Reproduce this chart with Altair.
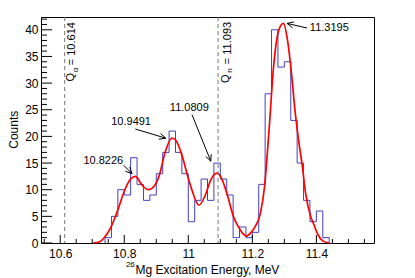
import math
import altair as alt
import pandas as pd

# ---------------- data ----------------
bin_lo = [10.74, 10.76, 10.78, 10.80, 10.82, 10.84, 10.86, 10.88, 10.90, 10.92,
          10.94, 10.96, 10.98, 11.00, 11.02, 11.04, 11.06, 11.08, 11.10, 11.12,
          11.14, 11.16, 11.18, 11.20, 11.22, 11.24, 11.26, 11.28, 11.30, 11.32,
          11.34, 11.36, 11.38, 11.40, 11.42]
bin_hi_last = 11.44
counts = [1, 5, 10, 9, 16, 11, 8, 9, 13, 17,
          21, 17, 13, 4, 8, 12, 8, 15, 12, 9,
          1, 3, 1, 2, 11, 28, 40, 33, 34, 23,
          15, 8, 4, 6, 1]

fit_e = [10.703, 10.725, 10.740, 10.757, 10.780, 10.800, 10.820, 10.835, 10.855, 10.875,
         10.895, 10.910, 10.927, 10.949, 10.962, 10.980, 10.997, 11.010, 11.033, 11.052,
         11.070, 11.089, 11.105, 11.122, 11.142, 11.155, 11.170, 11.181, 11.195, 11.210,
         11.225, 11.238, 11.252, 11.267, 11.283, 11.297, 11.310, 11.322, 11.333, 11.344,
         11.356, 11.366, 11.382, 11.392, 11.403, 11.420, 11.440]
fit_y = [0.0, 0.3, 1.2, 2.8, 6.2, 9.7, 12.0, 12.5, 10.9, 10.0,
         10.8, 12.8, 16.9, 19.7, 19.2, 16.5, 12.8, 10.2, 7.1, 8.8,
         11.8, 13.1, 12.0, 9.0, 4.8, 3.2, 1.8, 1.3, 1.9, 3.2,
         5.5, 10.5, 21.0, 33.5, 40.0, 41.2, 38.0, 32.0, 25.0, 19.5,
         14.5, 9.5, 5.0, 3.5, 1.8, 0.4, 0.0]

q_vals = [10.614, 11.093]

x_major = [10.6, 10.8, 11.0, 11.2, 11.4]
x_minor = [10.55, 10.65, 10.70, 10.75, 10.85, 10.90, 10.95, 11.05, 11.10, 11.15,
           11.25, 11.30, 11.35, 11.45, 11.50, 11.55]
y_major = [0, 5, 10, 15, 20, 25, 30, 35, 40]
y_minor = [1, 2, 3, 4, 6, 7, 8, 9, 11, 12, 13, 14, 16, 17, 18, 19, 21, 22, 23, 24,
           26, 27, 28, 29, 31, 32, 33, 34, 36, 37, 38, 39, 41, 42]

peak_labels = ["10.8226", "10.9491", "11.0809", "11.3195"]

# ---------------- layout ----------------
W, H = 333, 226
XD = [10.54, 11.58]
YD = [0, 42.4]
FONT = "Liberation Sans"

xs = alt.Scale(domain=XD, nice=False, zero=False)
ys = alt.Scale(domain=YD, nice=False, zero=False)

xaxis = alt.Axis(values=x_major, format="~g", tickSize=0, domain=False, grid=False,
                 labelFont=FONT, labelFontSize=12, labelColor="black", labelPadding=5,
                 labelOverlap=False, title=None)
yaxis = alt.Axis(values=y_major, format="d", tickSize=0, domain=False, grid=False,
                 labelFont=FONT, labelFontSize=12, labelColor="black", labelPadding=3,
                 labelOverlap=False, title=None)

def X(f):
    return alt.X(f, scale=xs, axis=xaxis)

def Y(f):
    return alt.Y(f, scale=ys, axis=yaxis)

# histogram outline
hx = [bin_lo[0]] + bin_lo + [bin_hi_last]
hy = [0] + counts + [0]
hist_df = pd.DataFrame({"e": hx, "c": hy, "o": list(range(len(hx)))})

hist = alt.Chart(hist_df).mark_line(
    interpolate="step-after", color="#4040c0", strokeWidth=1
).encode(x=X("e:Q"), y=Y("c:Q"), order=alt.Order("o:Q"))

fit_df = pd.DataFrame({"e": fit_e, "c": fit_y})
fit = alt.Chart(fit_df).mark_line(
    interpolate="monotone", color="#ff0000", strokeWidth=1.7
).encode(x=X("e:Q"), y=Y("c:Q"))

qrule = alt.Chart(pd.DataFrame({"q": q_vals})).mark_rule(
    color="#777777", strokeDash=[4, 3], strokeWidth=1
).encode(x=X("q:Q"))

# inward ticks
def xticks(vals, L):
    return alt.Chart(pd.DataFrame({"v": vals})).mark_rule(color="black", strokeWidth=1).encode(
        x=X("v:Q"), y=alt.value(H), y2=alt.value(H - L))

def yticks(vals, L):
    return alt.Chart(pd.DataFrame({"v": vals})).mark_rule(color="black", strokeWidth=1).encode(
        y=Y("v:Q"), x=alt.value(0), x2=alt.value(L))

one = pd.DataFrame({"a": [0]})

def txt(s, x, y, size=11, angle=0, align="center", baseline="middle"):
    return alt.Chart(one).mark_text(
        text=s, font=FONT, fontSize=size, angle=angle, align=align,
        baseline=baseline, color="black"
    ).encode(x=alt.value(x), y=alt.value(y))

def seg(x1, y1, x2, y2):
    return alt.Chart(one).mark_rule(color="black", strokeWidth=1).encode(
        x=alt.value(x1), y=alt.value(y1), x2=alt.value(x2), y2=alt.value(y2))

def arrow(tail, tip, head=7, ang=25):
    dx, dy = tail[0] - tip[0], tail[1] - tip[1]
    n = math.hypot(dx, dy)
    ux, uy = dx / n, dy / n
    out = [seg(tail[0], tail[1], tip[0], tip[1])]
    for s in (1, -1):
        a = math.radians(ang) * s
        rx = ux * math.cos(a) - uy * math.sin(a)
        ry = ux * math.sin(a) + uy * math.cos(a)
        out.append(seg(tip[0], tip[1], tip[0] + rx * head, tip[1] + ry * head))
    return out

annots = []
annots += [txt(peak_labels[0], 62.3, 144.4)] + arrow((82.6, 148.2), (91.0, 156.7))
annots += [txt(peak_labels[1], 90.1, 105.4)] + arrow((94.3, 112.0), (124.8, 121.2))
annots += [txt(peak_labels[2], 148.3, 91.0)] + arrow((151.0, 97.7), (169.8, 144.2))
annots += [txt(peak_labels[3], 288.3, 11.0)] + arrow((266.0, 11.0), (246.0, 6.4))

# Q labels (rotated)
annots += [txt("Q", 30.3, 60.2, 11, 270), txt("α", 35.0, 53.0, 8, 270),
           txt("= 10.614", 30.8, 26.7, 11, 270)]
annots += [txt("Q", 185.3, 61.7, 11, 270), txt("n", 189.0, 53.5, 8, 270),
           txt("= 11.093", 186.8, 26.0, 11, 270)]

# axis titles
annots += [txt("Counts", -27.5, 112.7, 12, 270)]
annots += [txt("Mg Excitation Energy, MeV", 94.5, 252.7, 12, 0, "left"),
           txt("26", 93.8, 247.5, 8, 0, "right")]

ticks = [xticks(x_major, 8), xticks(x_minor, 4), yticks(y_major, 11), yticks(y_minor, 6)]

chart = alt.layer(hist, fit, qrule, *ticks, *annots).properties(
    width=W, height=H,
    autosize=alt.AutoSizeParams(type="none"),
    padding={"left": 33, "top": 9, "right": 30, "bottom": 35},
    background="white",
).configure_view(stroke="black", strokeWidth=1)

chart.save("out.html", embed_options={"renderer": "svg", "actions": False})
